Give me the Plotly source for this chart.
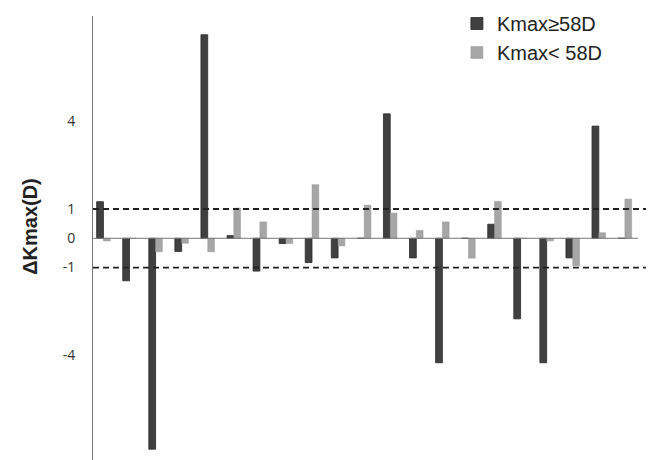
import plotly.graph_objects as go

categories = [str(i) for i in range(1, 22)]
kmax_high = [1.25, -1.45, -7.2, -0.45, 6.95, 0.09, -1.12, -0.18, -0.83, -0.67, 0.0,
             4.25, -0.67, -4.25, 0.0, 0.48, -2.75, -4.25, -0.67, 3.83, 0.0]
kmax_low = [-0.09, 0.0, -0.46, -0.17, -0.46, 1.03, 0.56, -0.18, 1.83, -0.26, 1.13,
            0.86, 0.27, 0.56, -0.68, 1.26, 0.0, -0.09, -0.94, 0.19, 1.34]
tick_vals = [-4, -1, 0, 1, 4]
tick_text = ["-4", "-1", "0", "1", "4"]
name_high = "Kmax≥58D"
name_low = "Kmax< 58D"
axis_title = "ΔKmax(D)"

fig = go.Figure()
fig.add_trace(go.Bar(x=categories, y=kmax_high, name=name_high,
                     marker=dict(color="#404040", line=dict(color="#2a2a2a", width=0.8))))
fig.add_trace(go.Bar(x=categories, y=kmax_low, name=name_low,
                     marker=dict(color="#a6a6a6", line=dict(color="#999999", width=0.5))))

# dashed reference lines
for yv in (1, -1):
    fig.add_shape(type="line", xref="paper", yref="y", x0=0, x1=1, y0=yv, y1=yv,
                  line=dict(color="#222222", width=1.8, dash="6px,4px"))
# zero axis line
fig.add_shape(type="line", xref="x", yref="y", x0=-0.4, x1=20.5, y0=0, y1=0,
              line=dict(color="#777777", width=1))

fig.add_annotation(text=axis_title, xref="paper", yref="paper",
                   x=-0.113, y=0.527, textangle=-90, showarrow=False,
                   font=dict(family="Liberation Sans", size=20, color="#222222", weight="bold"),
                   xanchor="center", yanchor="middle")

fig.update_layout(
    width=654, height=460,
    margin=dict(l=85, r=10, t=8, b=8, autoexpand=False),
    paper_bgcolor="white", plot_bgcolor="white",
    barmode="group", bargap=0.48, bargroupgap=0,
    showlegend=True,
    legend=dict(x=0.651, y=1.027, xanchor="left", yanchor="top",
                font=dict(family="Liberation Sans", size=20, color="#222222"),
                bgcolor="rgba(0,0,0,0)", tracegroupgap=0),
    font=dict(family="Open Sans", color="#333333"),
    xaxis=dict(range=[-0.4, 21.04], showticklabels=False, showgrid=False,
               zeroline=False, showline=False, ticks=""),
    yaxis=dict(range=[-7.57, 7.59], tickvals=tick_vals, ticktext=tick_text,
               showgrid=False, zeroline=False, showline=True, linecolor="#777777",
               linewidth=1, ticks="", ticklabelstandoff=14,
               tickfont=dict(family="Open Sans", size=14, color="#333333")),
)

fig.write_html("out.html")
